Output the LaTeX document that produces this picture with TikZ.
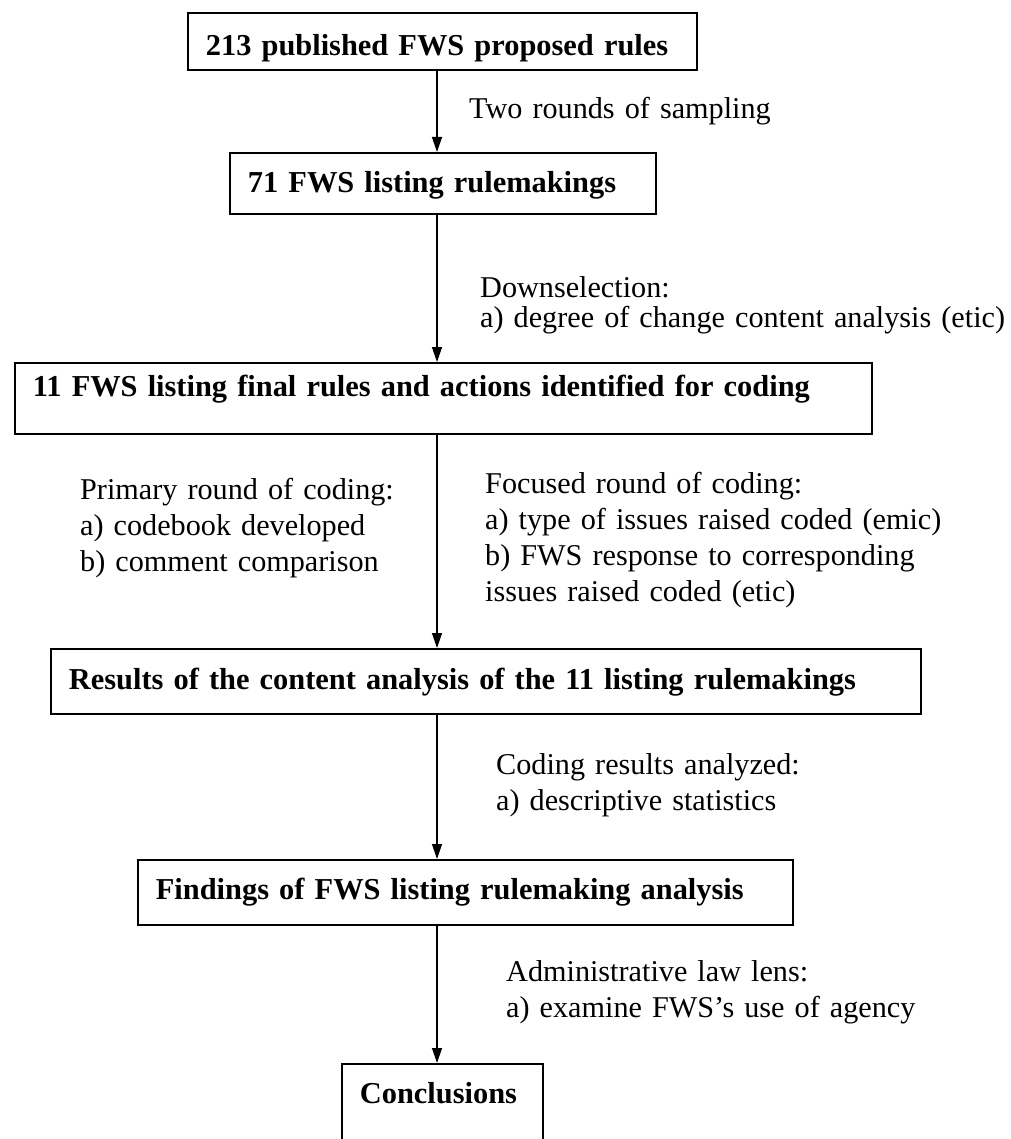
\documentclass[tikz,border=0pt]{standalone}
\usepackage{fontspec}
\setmainfont{Liberation Serif}
\usetikzlibrary{arrows.meta}

\begin{document}
\begin{tikzpicture}[x=1pt,y=-1pt,>={Triangle[length=15pt,width=10pt]},
  stage/.style={draw,line width=1.8pt,anchor=north west,align=left,
    inner xsep=18pt,inner ysep=0pt,font=\fontsize{30.4}{36}\selectfont\bfseries},
  note/.style={anchor=base west,align=left,text width=560pt,inner sep=0pt,
    font=\fontsize{30.2}{36.3}\selectfont},
  flow/.style={->,line width=1.3pt}]
  \clip (0,0) rectangle (1010,1139);
  \coordinate (spine) at (437,0);
  % boxes of the stages, top to bottom
  \node[stage,text width=473pt,text height=43pt,text depth=14pt] (proposed) at (187,12)
    {213 published FWS proposed rules};
  \node[stage,text width=390pt,text height=40pt,text depth=21pt] (listing) at (229,152)
    {71 FWS listing rulemakings};
  \node[stage,text width=821pt,text height=34pt,text depth=37pt] (coding) at (14,362)
    {11 FWS listing final rules and actions identified for coding};
  \node[stage,text width=834pt,text height=41pt,text depth=24pt] (results) at (50,648)
    {Results of the content analysis of the 11 listing rulemakings};
  \node[stage,text width=619pt,text height=40pt,text depth=25pt] (findings) at (137,859)
    {Findings of FWS listing rulemaking analysis};
  \node[stage,text width=165pt,text height=40pt,text depth=100pt] (conclusions) at (341,1063)
    {Conclusions};
  % texts beside the arrows
  \node[note] (sampling) at (469,119) {Two rounds of sampling};
  \node[note,font=\fontsize{30.2}{29}\selectfont] (downsel) at (480,298)
    {Downselection:\\a) degree of change content analysis (etic)};
  \node[note,text width=380pt] (primary) at (80,499)
    {Primary round of coding:\\a) codebook developed\\b) comment comparison};
  \node[note] (focused) at (485,493)
    {Focused round of coding:\\a) type of issues raised coded (emic)\\b) FWS response to corresponding\\issues raised coded (etic)};
  \node[note] (analyzed) at (496,774)
    {Coding results analyzed:\\a) descriptive statistics};
  \node[note] (lens) at (506,981)
    {Administrative law lens:\\a) examine FWS’s use of agency};
  % arrows down the spine
  \draw[flow] (proposed.south -| spine) -- (listing.north -| spine);
  \draw[flow] (listing.south -| spine) -- (coding.north -| spine);
  \draw[flow] (coding.south -| spine) -- (results.north -| spine);
  \draw[flow] (results.south -| spine) -- (findings.north -| spine);
  \draw[flow] (findings.south -| spine) -- (conclusions.north -| spine);
\end{tikzpicture}
\end{document}
